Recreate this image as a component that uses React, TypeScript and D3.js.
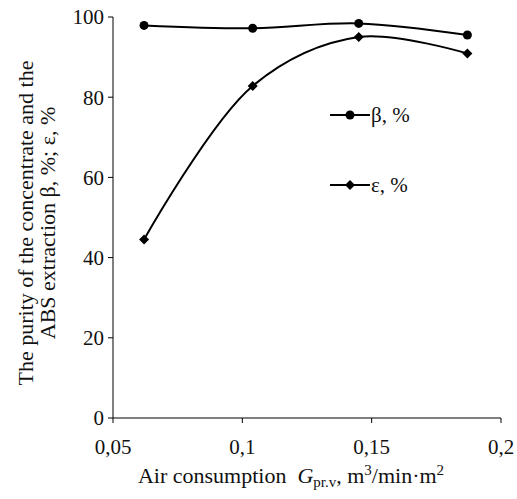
import React from "react";
import * as d3 from "d3";

const xValues = [0.062, 0.104, 0.145, 0.187];
const betaValues = [97.9, 97.2, 98.4, 95.5];
const epsValues = [44.5, 82.8, 95.0, 90.9];
const xTicks = [0.05, 0.1, 0.15, 0.2];
const xTickLabels = ["0,05", "0,1", "0,15", "0,2"];
const yTicks = [0, 20, 40, 60, 80, 100];
const seriesNames = ["β, %", "ε, %"];

const W = 517;
const H = 499;
const m = { left: 113, right: 501, top: 17, bottom: 418 };
const font = "'Liberation Serif', 'Times New Roman', serif";

export default function App() {
  const x = d3.scaleLinear().domain([0.05, 0.2]).range([m.left, m.right]);
  const y = d3.scaleLinear().domain([0, 100]).range([m.bottom, m.top]);
  const line = d3
    .line<[number, number]>()
    .x((d) => x(d[0]))
    .y((d) => y(d[1]))
    .curve(d3.curveCatmullRom.alpha(0.5));
  const betaPts: [number, number][] = xValues.map((v, i) => [v, betaValues[i]]);
  const epsPts: [number, number][] = xValues.map((v, i) => [v, epsValues[i]]);
  const diamond = (cx: number, cy: number, r: number) =>
    `M${cx},${cy - r}L${cx + r},${cy}L${cx},${cy + r}L${cx - r},${cy}Z`;

  return (
    <svg
      width={W}
      height={H}
      style={{ position: "absolute", left: 0, top: 0, background: "#fff" }}
      fontFamily={font}
    >
      {/* axes */}
      <line x1={m.left} x2={m.left} y1={m.top} y2={m.bottom} stroke="#000" strokeWidth={1} />
      <line x1={m.left} x2={m.right} y1={m.bottom} y2={m.bottom} stroke="#000" strokeWidth={1} />
      {yTicks.map((t) => (
        <g key={"y" + t}>
          <line x1={m.left - 5} x2={m.left} y1={y(t)} y2={y(t)} stroke="#000" />
          <text x={m.left - 9} y={y(t)} dy="0.35em" textAnchor="end" fontSize={21} fill="#111">
            {t}
          </text>
        </g>
      ))}
      {xTicks.map((t, i) => (
        <g key={"x" + t}>
          <line x1={x(t)} x2={x(t)} y1={m.bottom} y2={m.bottom + 5} stroke="#000" />
          <text x={x(t)} y={454} textAnchor="middle" fontSize={21} fill="#111">
            {xTickLabels[i]}
          </text>
        </g>
      ))}
      {/* lines */}
      <path d={line(betaPts) || ""} fill="none" stroke="#000" strokeWidth={2} />
      <path d={line(epsPts) || ""} fill="none" stroke="#000" strokeWidth={2} />
      {betaPts.map((p, i) => (
        <circle key={"b" + i} cx={x(p[0])} cy={y(p[1])} r={4.5} fill="#000" />
      ))}
      {epsPts.map((p, i) => (
        <path key={"e" + i} d={diamond(x(p[0]), y(p[1]), 5)} fill="#000" />
      ))}
      {/* legend */}
      <g>
        <line x1={330} x2={370} y1={115} y2={115} stroke="#000" strokeWidth={2} />
        <circle cx={350} cy={115} r={4.5} fill="#000" />
        <text x={371} y={115} dy="0.35em" fontSize={21} fill="#111">
          {seriesNames[0]}
        </text>
        <line x1={330} x2={370} y1={185} y2={185} stroke="#000" strokeWidth={2} />
        <path d={diamond(350, 185, 5)} fill="#000" />
        <text x={371} y={185} dy="0.35em" fontSize={21} fill="#111">
          {seriesNames[1]}
        </text>
      </g>
      {/* axis titles */}
      <g transform={`translate(33, 223) rotate(-90)`}>
        <text x={0} y={0} textAnchor="middle" fontSize={22} fill="#111">
          The purity of the concentrate and the
        </text>
        <text x={0} y={22} textAnchor="middle" fontSize={22} fill="#111">
          ABS extraction β, %; ε, %
        </text>
      </g>
      <text x={291} y={483} textAnchor="middle" fontSize={22} fill="#111">
        Air consumption{"\u00a0\u00a0"}
        <tspan fontStyle="italic">G</tspan>
        <tspan fontSize={15} dy={4}>pr.v</tspan>
        <tspan dy={-4}>, m</tspan>
        <tspan fontSize={15} dy={-8}>3</tspan>
        <tspan dy={8}>/min·m</tspan>
        <tspan fontSize={15} dy={-8}>2</tspan>
      </text>
    </svg>
  );
}
